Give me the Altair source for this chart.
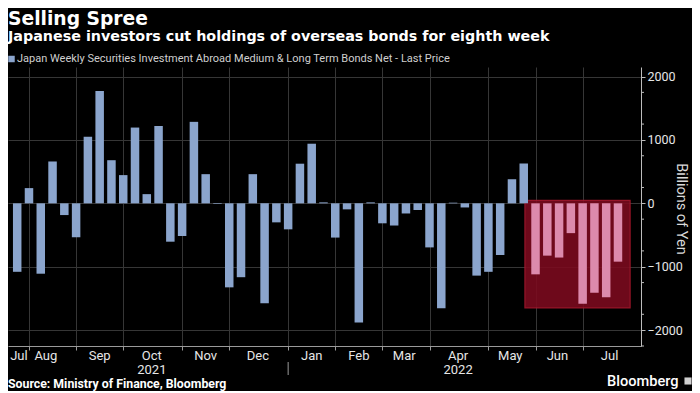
import altair as alt
import pandas as pd

# ---------------- data ----------------
week_dates = [d.strftime("%Y-%m-%d") for d in pd.date_range("2021-07-30", "2022-07-22", freq="7D")]
net_flows = [
    -1080, 240, -1110, 660, -185, -535, 1050, 1770, 680, 445,
    1195, 145, 1220, -605, -515, 1285, 460, -10, -1325, -1165,
    460, -1575, -300, -410, 625, 940, 15, -540, -95, -1880,
    15, -315, -350, -160, -105, -695, -1655, 10, -65, -1140,
    -1080, -815, 380, 630, -1120, -825, -855, -470, -1585, -1410,
    -1480, -920,
]
highlight_weeks = 8

month_tick_dates = ["2021-08-06", "2021-09-03", "2021-10-01", "2021-11-05", "2021-12-03",
                    "2022-01-07", "2022-02-04", "2022-03-04", "2022-04-01", "2022-05-06",
                    "2022-06-03", "2022-07-01"]
month_labels = ["Jul", "Aug", "Sep", "Oct", "Nov", "Dec", "Jan", "Feb", "Mar", "Apr", "May", "Jun", "Jul"]
month_label_dates = ["2021-07-31", "2021-08-16", "2021-09-17", "2021-10-18", "2021-11-19",
                     "2021-12-20", "2022-01-21", "2022-02-18", "2022-03-17", "2022-04-18",
                     "2022-05-19", "2022-06-16", "2022-07-17"]
year_labels = ["2021", "2022"]
year_label_dates = ["2021-10-18", "2022-04-18"]
year_break_date = ["2022-01-07"]

box_start = ["2022-05-27T17:00:00"]
box_end = ["2022-07-29T05:00:00"]
box_top = [47]
box_bottom = [-1650]

y_major = [-2000, -1500, -1000, -500, 0, 500, 1000, 1500, 2000]
y_minor = [-2250, -1750, -1250, -750, -250, 250, 750, 1250, 1750]

title = "Selling Spree"
subtitle = "Japanese investors cut holdings of overseas bonds for eighth week"
legend_label = "Japan Weekly Securities Investment Abroad Medium & Long Term Bonds Net - Last Price"
axis_title = "Billions of Yen"
source = "Source: Ministry of Finance, Bloomberg"
brand = "Bloomberg"

# ---------------- styling ----------------
W, H = 633, 279
FONT = "Roboto"
HEAD = "DejaVu Sans"
BLUE = "#8ba5cd"
PINK = "#dc8aac"
GRID = "#363636"
TXT = "#e6e6e6"

n = len(net_flows)
df = pd.DataFrame({
    "date": week_dates,
    "value": net_flows,
    "group": ["recent" if i >= n - highlight_weeks else "normal" for i in range(n)],
})

x_scale = alt.Scale(domain=[alt.DateTime(year=2021, month=7, date=27, hours=12, utc=True),
                            alt.DateTime(year=2022, month=8, date=1, hours=17, utc=True)])
y_scale = alt.Scale(domain=[-2250, 2150], nice=False, zero=False)

tick_vals = [alt.DateTime(year=int(d[:4]), month=int(d[5:7]), date=int(d[8:10]), utc=True)
             for d in month_tick_dates]
x_axis = alt.Axis(values=tick_vals, labels=False, title=None, grid=True, gridColor=GRID,
                  gridWidth=1, ticks=True, tickSize=4, tickColor="#9a9a9a",
                  domainColor="#9a9a9a", domainWidth=1)
y_axis = alt.Axis(orient="right", values=y_major, format="d", title=None, grid=True,
                  gridColor=GRID, tickSize=4, tickColor="#bdbdbd", domainColor="#bdbdbd",
                  labelColor=TXT, labelFont=FONT, labelFontSize=12.5, labelPadding=2)

box = alt.Chart(pd.DataFrame({"start": box_start, "end": box_end,
                              "top": box_top, "bottom": box_bottom})).mark_rect(
    color="#7b0b1f", opacity=0.9, stroke="#a5172d", strokeWidth=1.2
).encode(
    x=alt.X("start:T", scale=x_scale, axis=x_axis),
    x2="end:T",
    y=alt.Y("top:Q", scale=y_scale, axis=y_axis),
    y2="bottom:Q",
)

bars = alt.Chart(df).mark_bar(size=8.5).encode(
    x=alt.X("date:T", scale=x_scale, axis=x_axis),
    y=alt.Y("value:Q", scale=y_scale, axis=y_axis),
    color=alt.Color("group:N", scale=alt.Scale(domain=["normal", "recent"], range=[BLUE, PINK]),
                    legend=None),
)

minor = alt.Chart(pd.DataFrame({"v": y_minor})).mark_rule(color="#bdbdbd", strokeWidth=1).encode(
    y=alt.Y("v:Q", scale=y_scale),
    x=alt.value(W), x2=alt.value(W + 3),
)

months = alt.Chart(pd.DataFrame({"d": month_label_dates, "t": month_labels})).mark_text(
    font=FONT, fontSize=13, color=TXT, baseline="middle", align="center"
).encode(x=alt.X("d:T", scale=x_scale), y=alt.value(H + 10), text="t:N")

years = alt.Chart(pd.DataFrame({"d": year_label_dates, "t": year_labels})).mark_text(
    font=FONT, fontSize=13, color=TXT, baseline="middle", align="center"
).encode(x=alt.X("d:T", scale=x_scale), y=alt.value(H + 24), text="t:N")

year_break = alt.Chart(pd.DataFrame({"d": year_break_date})).mark_rule(
    color="#9a9a9a", strokeWidth=1
).encode(x=alt.X("d:T", scale=x_scale), y=alt.value(H + 16), y2=alt.value(H + 29))


def label(text, x, y, size, weight="normal", color="#ffffff", align="left", baseline="alphabetic",
          angle=0, font=FONT):
    return alt.Chart(pd.DataFrame({"t": [text]})).mark_text(
        font=font, fontSize=size, fontWeight=weight, color=color, align=align,
        baseline=baseline, angle=angle
    ).encode(text="t:N", x=alt.value(x), y=alt.value(y))


t_title = label(title, 0, -42.5, 18.7, "bold", font=HEAD)
t_sub = label(subtitle, 0, -26.5, 14.3, "bold", font=HEAD)
legend_sq = alt.Chart(pd.DataFrame({"t": [""]})).mark_square(size=42, color=BLUE, opacity=1).encode(
    x=alt.value(3.5), y=alt.value(-8))
t_leg = label(legend_label, 9, -8, 11, color="#cfcfcf", baseline="middle")
t_axis = label(axis_title, W + 40, 142, 14.5, color="#d9d9d9", align="center", baseline="middle",
               angle=90)
t_src = label(source, 0, H + 42, 12.3, "bold")
t_brand = label(brand, W - 34, H + 40, 14.6, 500)
brand_sq = alt.Chart(pd.DataFrame({"t": [""]})).mark_square(size=50, color="#d0d0d0", opacity=1).encode(
    x=alt.value(W + 47), y=alt.value(H + 35))

chart = alt.layer(
    box, bars, minor, months, years, year_break,
    t_title, t_sub, legend_sq, t_leg, t_axis, t_src, t_brand, brand_sq,
).properties(
    width=W, height=H,
    background="#000000",
    autosize=alt.AutoSizeParams(type="none"),
    padding={"left": 0, "top": 59, "right": 51, "bottom": 45},
).configure_view(stroke=None)

chart.save("out.html", embed_options={"renderer": "svg", "actions": False})
